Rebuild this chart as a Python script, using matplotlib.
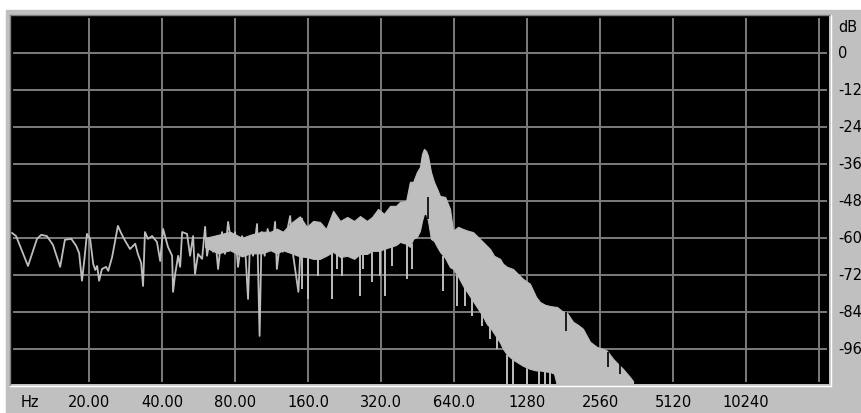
import matplotlib
matplotlib.use('Agg')
import matplotlib.pyplot as plt
from matplotlib import transforms
from matplotlib.patches import Rectangle
from matplotlib.lines import Line2D

W, H = 861, 414

# low end of the spectrum: a single jagged trace
trace_hz = [9.63, 10.0, 11.2, 12.2, 12.7, 13.4, 14.2, 15.2, 15.9, 16.9,
            17.7, 18.2, 18.7, 19.1, 19.6, 20.2, 20.8, 21.2, 21.6, 22.0,
            22.6, 23.5, 24.0, 24.9, 26.3, 27.1, 28.2, 29.5, 31.0, 31.8,
            32.8, 33.4, 34.0, 35.0, 36.4, 38.1, 39.3, 40.4, 42.3, 44.0,
            44.4, 45.3, 46.6, 47.5, 48.4, 50.7, 52.2, 53.7, 54.7, 56.3,
            58.5, 60.2, 61.3, 63.1, 64.9, 66.2, 68.1, 70.7, 72.7, 74.9,
            77.8, 80.0, 82.3, 85.5, 88.0, 90.5, 92.3, 94.9, 98.6, 101,
            103, 106, 109, 114, 117, 119, 123, 126, 131, 135,
            139, 146, 151]
trace_db = [-58.4, -59.4, -69.1, -60.3, -59.0, -59.4, -62.3, -69.4, -60.6, -60.3,
            -62.6, -64.9, -73.9, -67.5, -58.7, -60.3, -68.4, -70.4, -69.1, -73.9,
            -70.1, -69.4, -70.7, -66.2, -56.1, -58.4, -61.0, -63.6, -61.9, -65.2,
            -68.1, -75.6, -58.1, -60.3, -59.4, -61.3, -67.5, -57.1, -62.9, -65.8,
            -77.5, -71.7, -65.8, -69.4, -58.1, -58.7, -65.8, -59.4, -71.7, -65.2,
            -66.8, -56.4, -65.8, -60.3, -64.5, -59.7, -70.1, -58.1, -65.2, -54.8,
            -63.6, -58.1, -69.4, -59.4, -62.9, -79.8, -60.3, -65.8, -55.5, -91.8,
            -58.1, -65.8, -57.1, -63.6, -54.8, -70.1, -60.3, -64.5, -58.1, -52.9,
            -65.8, -77.5, -53.8]

# dense part: upper and lower edge of the filled band
band_hz = [60.2, 68.1, 76.3, 85.5, 92.3, 103, 112, 119, 126, 137,
           148, 158, 168, 179, 190, 203,
           217, 232, 248, 262, 280, 294, 311, 329, 349, 369,
           383, 406, 421, 434, 450, 463, 472, 481, 491, 500,
           514, 529, 545, 560, 588, 616, 634, 665, 697, 731,
           766, 804, 835, 875, 901, 936, 991, 1019, 1059, 1121,
           1175, 1232, 1317, 1394, 1448, 1519, 1592, 1654, 1702, 1784,
           1871, 1981, 2077, 2178, 2328, 2488, 2634, 2736, 2896, 3037,
           3185, 3340, 3502]
band_top_db = [-60.0, -59.0, -58.0, -60.0, -59.0, -58.0, -58.0, -57.0, -58.0, -55.0,
               -53.0, -56.4, -54.5, -54.8, -57.1, -51.2,
               -54.5, -53.2, -54.5, -52.9, -54.5, -53.2, -50.6, -52.2, -49.6, -49.6,
               -48.3, -48.0, -41.8, -41.8, -38.6, -37.0, -32.8, -31.1, -31.8, -33.4,
               -38.6, -41.8, -44.1, -46.4, -46.7, -50.6, -57.7, -56.4, -57.1, -57.7,
               -58.1, -59.7, -61.0, -62.6, -63.6, -65.8, -66.8, -68.4, -69.4, -70.1,
               -71.7, -73.3, -74.9, -79.1, -80.8, -81.7, -82.1, -82.3, -82.4, -83.7,
               -84.3, -87.2, -88.2, -89.5, -93.7, -95.4, -96.0, -96.6, -99.2, -100.9,
               -102.5, -104.4, -106.4]
band_bottom_db = [-63.0, -65.0, -64.0, -66.0, -65.0, -65.0, -64.0, -65.0, -64.0, -65.0,
                  -66.0, -66.2, -66.8, -66.8, -65.8, -64.5,
                  -66.2, -65.8, -66.8, -65.2, -65.2, -64.2, -64.2, -63.6, -62.9, -62.3,
                  -61.3, -61.9, -62.9, -60.3, -59.7, -57.7, -54.5, -52.2, -52.2, -54.5,
                  -60.3, -61.0, -62.9, -64.5, -66.5, -69.5, -70.0, -72.5, -75.5, -78.0,
                  -80.5, -83.0, -85.0, -88.0, -89.0, -91.0, -94.0, -96.0, -97.9, -99.5,
                  -100.5, -101.5, -102.5, -103.0, -103.0, -103.3, -103.5, -104.0, -108, -108,
                  -108, -108, -108, -108, -108, -108, -108, -108, -108, -108,
                  -108, -108, -108]

# narrow dips hanging below the band
dip_hz = [151, 160, 176, 201, 211, 221, 262, 270, 294, 317,
          332, 355, 410, 430,
          577, 657, 710, 757, 835, 901, 960,
          1059, 1121, 1280, 1434, 1519, 1592]
dip_top_db = [-64.0, -66.0, -66.0, -64.5, -65.0, -65.0, -65.0, -64.0, -64.0, -63.5,
              -63.5, -62.9, -62.0, -62.0,
              -66.0, -72.0, -74.0, -78.0, -84.0, -88.0, -92.0,
              -98.0, -99.5, -102.5, -103.0, -103.3, -103.5]
dip_bottom_db = [-76.5, -79.8, -72.3, -79.8, -70.0, -72.3, -78.8, -70.0, -74.3, -72.3,
                 -78.8, -69.1, -73.3, -70.1,
                 -77.2, -82.0, -82.1, -85.2, -88.5, -92.8, -96.0,
                 -108, -108, -108, -108, -108, -108]

# thin black gaps cut into the band
gap_hz = [500, 1845, 2762, 3096]
gap_top_db = [-46.7, -84.0, -97.0, -100.2]
gap_bottom_db = [-53.8, -90.2, -101.8, -104.1]

freq_grid = [20, 40, 80, 160, 320, 640, 1280, 2560, 5120, 10240, 20480]
freq_labels = ['20.00', '40.00', '80.00', '160.0', '320.0',
               '640.0', '1280', '2560', '5120', '10240']
db_grid = [0, -12, -24, -36, -48, -60, -72, -84, -96]
db_labels = ['0', '-12', '-24', '-36', '-48', '-60', '-72', '-84', '-96']

SPEC = '#bebebe'
GRID = '#7c7c7c'
PANEL = '#c0c0c0'


def _px(x, y):
    # pixel position (from top-left) to figure fraction
    return x / W, 1 - y / H


def draw_frame(fig):
    x0, y0 = _px(6, H)
    fig.add_artist(Rectangle((x0, y0), 1 - x0, 1 - 11 / H,
                             transform=fig.transFigure, color=PANEL, zorder=-10))
    # sunken border around the black panel
    for (xa, ya), (xb, yb), c in [((10, 16), (830, 16), '#808080'),
                                  ((10, 16), (10, 386), '#808080'),
                                  ((10, 386.5), (831, 386.5), 'white'),
                                  ((830.5, 16), (830.5, 387), 'white')]:
        p, q = _px(xa, ya), _px(xb, yb)
        fig.add_artist(Line2D([p[0], q[0]], [p[1], q[1]], transform=fig.transFigure,
                              color=c, lw=1.0, zorder=5))


def plot_spectrum(ax):
    ax.set_facecolor('black')
    ax.set_xscale('log', base=2)
    ax.set_xlim(9.53, 22520)
    ax.set_ylim(-107.4, 12)
    ax.set_xticks([])
    ax.set_yticks([])
    ax.minorticks_off()
    for s in ax.spines.values():
        s.set_visible(False)

    for f in freq_grid:
        ax.axvline(f, ymin=0.008, ymax=0.992, color=GRID, lw=1.4, zorder=1)
    for d in db_grid:
        ax.axhline(d, xmin=0.004, xmax=0.996, color=GRID, lw=1.4, zorder=1)

    ax.fill_between(band_hz, band_bottom_db, band_top_db,
                    facecolor=SPEC, edgecolor=SPEC, lw=0.8, zorder=3)
    ax.plot(trace_hz, trace_db, color=SPEC, lw=1.3, zorder=3)
    ax.vlines(dip_hz, dip_bottom_db, dip_top_db, color=SPEC, lw=1.4, zorder=3)
    ax.vlines(gap_hz, gap_bottom_db, gap_top_db, color='black', lw=1.2, zorder=4)


def draw_labels(fig, ax):
    kw = dict(fontsize=10.5, color='black', family='DejaVu Sans')
    xt = transforms.blended_transform_factory(ax.transData, fig.transFigure)
    ylab = 1 - 403 / H
    for f, lab in zip(freq_grid, freq_labels):
        ax.text(f, ylab, lab, transform=xt, ha='center', va='center', **kw)
    fig.text(30 / W, ylab, 'Hz', ha='center', va='center', **kw)

    yt = transforms.blended_transform_factory(fig.transFigure, ax.transData)
    for d, lab in zip(db_grid, db_labels):
        ax.text(838 / W, d, lab, transform=yt, ha='left', va='center',
                clip_on=False, **kw)
    fig.text(838 / W, 1 - 28 / H, 'dB', ha='left', va='center', **kw)


if __name__ == '__main__':
    fig = plt.figure(figsize=(W / 100, H / 100), dpi=100)
    fig.patch.set_facecolor('white')
    ax = fig.add_axes([11 / W, (H - 385) / H, 818 / W, 368 / H])
    draw_frame(fig)
    plot_spectrum(ax)
    draw_labels(fig, ax)
    fig.savefig('out.png', dpi=100)
